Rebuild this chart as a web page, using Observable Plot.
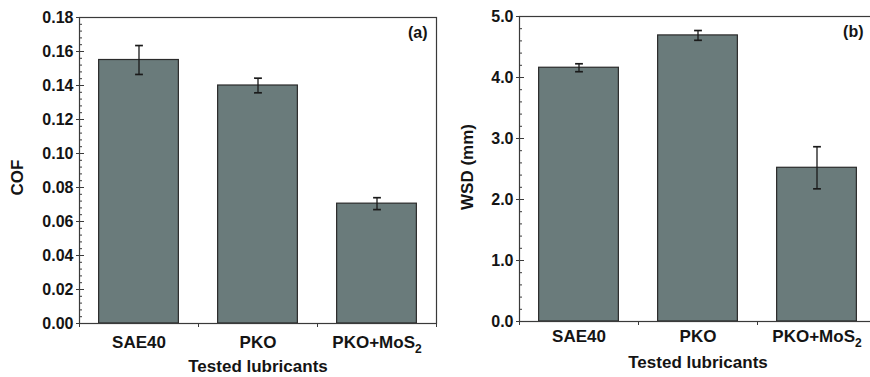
<!DOCTYPE html>
<html><head><meta charset="utf-8">
<script src="https://cdn.jsdelivr.net/npm/d3@7"></script>
<script src="https://cdn.jsdelivr.net/npm/@observablehq/plot@0.6"></script>
<style>
html,body{margin:0;padding:0;background:#fff;overflow:hidden;}
#wrap{position:relative;width:870px;height:377px;overflow:hidden;}
#wrap svg{position:absolute;top:0;}
</style></head><body><div id="wrap"></div>
<script>
const categories = ["SAE40", "PKO", "PKO+MoS₂"];
const cofValues = [0.155, 0.140, 0.0705];
const cofErrors = [0.0085, 0.0043, 0.0035];
const wsdValues = [4.16, 4.69, 2.52];
const wsdErrors = [0.065, 0.08, 0.345];
const cofTicks = [0, 0.02, 0.04, 0.06, 0.08, 0.10, 0.12, 0.14, 0.16, 0.18];
const wsdTicks = [0, 1, 2, 3, 4, 5];
const xTitle = "Tested lubricants";

function panel(o) {
  const rows = categories.map((c, i) => ({c, i, v: o.values[i], lo: o.values[i] - o.errors[i], hi: o.values[i] + o.errors[i]}));
  const minor = d3.range(0, o.yMax + 1e-9, o.minorStep);
  const svg = Plot.plot({
    width: o.width, height: 377,
    marginLeft: o.marginLeft, marginRight: o.marginRight, marginTop: o.marginTop, marginBottom: o.marginBottom,
    style: {fontFamily: "'Liberation Sans', Arial, sans-serif", fontWeight: "bold", fontSize: "16px", color: "#141414", background: "transparent", overflow: "visible"},
    x: {domain: [0, 3], axis: null},
    y: {domain: [0, o.yMax], axis: null},
    marks: [
      Plot.rectY(rows, {x1: d => d.i + 0.165, x2: d => d.i + 0.835, y1: 0, y2: "v", fill: "#6a7b7b", stroke: "#2a2a2a", strokeWidth: 1.2}),
      Plot.link(rows, {x1: d => d.i + 0.5, x2: d => d.i + 0.5, y1: "lo", y2: "hi", stroke: "#1a1a1a", strokeWidth: 1.3, markerStart: "tick", markerEnd: "tick"}),
      Plot.frame({stroke: "#3a3a3a", strokeWidth: 1.2}),
      Plot.axisY({ticks: o.ticks, tickSize: 3, tickPadding: 3, tickFormat: o.fmt, label: null, stroke: "#3a3a3a"}),
      Plot.axisY({ticks: o.ticks, tickSize: -5, tickFormat: () => "", label: null, stroke: "#3a3a3a"}),
      Plot.axisY({ticks: minor, tickSize: -3, tickFormat: () => "", label: null, stroke: "#3a3a3a"}),
      Plot.axisX({ticks: [0, 1, 2, 3], tickSize: 4, tickFormat: () => "", label: null, stroke: "#3a3a3a"}),
      Plot.text(rows, {x: d => d.i + 0.5, text: "c", frameAnchor: "bottom", dy: o.labelDy, lineAnchor: "middle", fontSize: 17}),
      Plot.text([xTitle], {frameAnchor: "bottom", dy: o.titleDy, lineAnchor: "middle", fontSize: 17}),
      Plot.text([o.yLabel], {frameAnchor: "left", rotate: -90, dx: o.yLabelDx, dy: o.yLabelDy, textAnchor: "middle", lineAnchor: "middle", fontSize: 17}),
      Plot.text([o.tag], {frameAnchor: "top-right", dx: o.tagDx, dy: 15, textAnchor: "end", lineAnchor: "middle", fontSize: 16})
    ]
  });
  svg.style.left = o.left + "px";
  // render the subscript of MoS₂ as a lowered, smaller "2"
  svg.querySelectorAll("text").forEach(t => {
    if (t.textContent.includes("₂")) {
      const base = t.textContent.replace("₂", "");
      t.textContent = base;
      const s = document.createElementNS("http://www.w3.org/2000/svg", "tspan");
      s.setAttribute("dy", "5");
      s.setAttribute("font-size", "12");
      s.textContent = "2";
      t.appendChild(s);
    }
  });
  return svg;
}

const wrap = document.getElementById("wrap");
wrap.appendChild(panel({
  values: cofValues, errors: cofErrors, yMax: 0.18, ticks: cofTicks, minorStep: 0.004,
  fmt: d3.format(".2f"), yLabel: "COF", tag: "(a)",
  left: 0, width: 437, marginLeft: 79, marginRight: 1, marginTop: 17, marginBottom: 54,
  labelDy: 19, titleDy: 43, yLabelDx: -62, yLabelDy: 7, tagDx: -9
}));
wrap.appendChild(panel({
  values: wsdValues, errors: wsdErrors, yMax: 5, ticks: wsdTicks, minorStep: 0.2,
  fmt: d3.format(".1f"), yLabel: "WSD (mm)", tag: "(b)",
  left: 437, width: 445, marginLeft: 82, marginRight: 6, marginTop: 16, marginBottom: 56,
  labelDy: 15, titleDy: 41, yLabelDx: -52, yLabelDy: -2, tagDx: -13
}));
</script></body></html>
